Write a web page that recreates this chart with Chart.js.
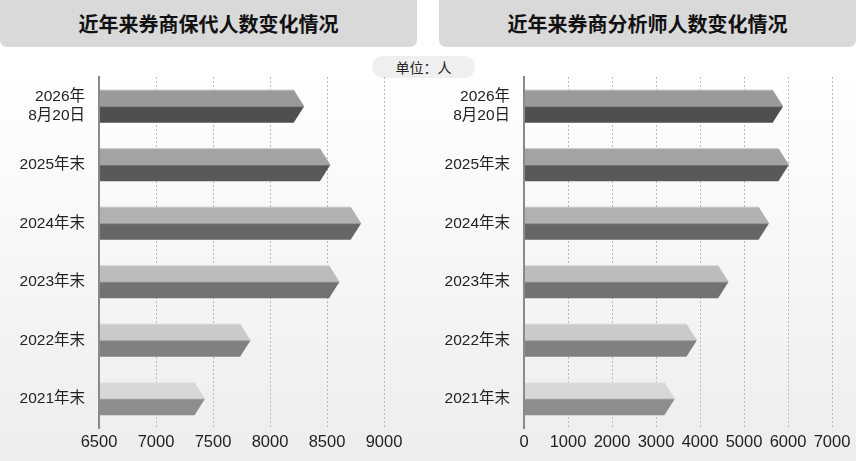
<!DOCTYPE html>
<html>
<head>
<meta charset="utf-8">
<script src="https://cdn.jsdelivr.net/npm/chart.js@4/dist/chart.umd.min.js"></script>
<style>
  html, body { margin:0; padding:0; }
  body { width:856px; height:461px; position:relative; overflow:hidden;
         background: linear-gradient(to bottom, #ffffff 0px, #ffffff 70px, #ededed 461px);
         font-family: "Liberation Sans", Arial, "Noto Sans CJK SC", sans-serif; }
  .title { position:absolute; top:0; height:47px; background:#d9d9d9; border-radius:0 0 7px 7px;
           display:flex; align-items:center; justify-content:center;
           font-size:20px; font-weight:bold; color:#111; font-family:"Noto Sans CJK SC", sans-serif; }
  .unit { position:absolute; left:372px; top:56px; width:103px; height:22px; border-radius:11px;
          background:#efefef; font-size:14px; color:#222; display:flex; align-items:center; justify-content:center;
          font-family:"Noto Sans CJK SC", sans-serif; }
  .box { position:absolute; top:0; height:461px; }
</style>
</head>
<body>
<div class="title" style="left:0;width:417px;">近年来券商保代人数变化情况</div>
<div class="title" style="left:439px;width:417px;">近年来券商分析师人数变化情况</div>
<div class="unit">单位：人</div>
<div class="box" style="left:0;width:428px;"><canvas id="c1"></canvas></div>
<div class="box" style="left:430px;width:426px;"><canvas id="c2"></canvas></div>
<script>
const categories = [['2026年','8月20日'], '2025年末', '2024年末', '2023年末', '2022年末', '2021年末'];
const sponsorValues = [8300, 8530, 8800, 8610, 7830, 7430];
const analystValues = [5890, 6020, 5570, 4650, 3930, 3430];
const sponsorAxis = { min: 6500, max: 9000, step: 500 };
const analystAxis = { min: 0, max: 7000, step: 1000 };

const topColors = ['#9a9a9a', '#a3a3a3', '#b1b1b1', '#bcbcbc', '#cacaca', '#d7d7d7'];
const bottomColors = ['#4f4f4f', '#595959', '#666666', '#727272', '#808080', '#8d8d8d'];

const arrowBars = {
  id: 'arrowBars',
  afterDatasetsDraw(chart) {
    const ctx = chart.ctx;
    const meta = chart.getDatasetMeta(0);
    const xs = chart.scales.x;
    const base = xs.getPixelForValue(xs.min);
    meta.data.forEach((el, i) => {
      const x0 = base + 1, x1 = el.x, y = el.y, h = el.height / 2, d = 10.5;
      ctx.save();
      ctx.fillStyle = topColors[i];
      ctx.beginPath();
      ctx.moveTo(x0, y - h); ctx.lineTo(x1 - d, y - h); ctx.lineTo(x1, y); ctx.lineTo(x0, y); ctx.closePath();
      ctx.fill();
      ctx.fillStyle = bottomColors[i];
      ctx.beginPath();
      ctx.moveTo(x0, y); ctx.lineTo(x1, y); ctx.lineTo(x1 - d, y + h); ctx.lineTo(x0, y + h); ctx.closePath();
      ctx.fill();
      ctx.strokeStyle = 'rgba(255,255,255,0.35)';
      ctx.lineWidth = 1;
      ctx.beginPath(); ctx.moveTo(x0, y - h + 0.5); ctx.lineTo(x1 - d, y - h + 0.5); ctx.stroke();
      ctx.strokeStyle = 'rgba(255,255,255,0.18)';
      ctx.beginPath(); ctx.moveTo(x0, y + 0.5); ctx.lineTo(x1, y + 0.5); ctx.stroke();
      ctx.restore();
    });
  }
};

function makeChart(id, values, axis, yWidth, padRight) {
  return new Chart(document.getElementById(id), {
    type: 'bar',
    data: { labels: categories, datasets: [{ data: values, base: axis.min, backgroundColor: 'rgba(0,0,0,0)', borderWidth: 0,
            barThickness: 33 }] },
    options: {
      indexAxis: 'y', responsive: true, maintainAspectRatio: false, animation: false,
      layout: { padding: { top: 77, right: padRight, left: 0, bottom: 0 } },
      plugins: { legend: { display: false }, tooltip: { enabled: false } },
      scales: {
        x: {
          min: axis.min, max: axis.max,
          ticks: { stepSize: axis.step, color: '#222', padding: 5, maxRotation: 0, minRotation: 0, autoSkip: false,
                   callback: (v) => String(v),
                   font: { family: '"Liberation Sans", Arial, sans-serif', size: 16.5 } },
          grid: { color: '#bbbbbb', borderDash: [2, 2], drawTicks: false, lineWidth: 1 },
          border: { display: false, dash: [2, 2] },
          afterFit(s) { s.height = 33; }
        },
        y: {
          ticks: { color: '#222', padding: 14,
                   font: { family: '"Liberation Sans", Arial, "Noto Sans CJK SC", sans-serif', size: 15.5, lineHeight: 1.17 } },
          grid: { display: false, drawTicks: false },
          border: { display: true, color: '#8a8a8a', width: 2 },
          afterFit(s) { s.width = yWidth; }
        }
      }
    },
    plugins: [arrowBars]
  });
}

makeChart('c1', sponsorValues, sponsorAxis, 99, 44);
makeChart('c2', analystValues, analystAxis, 94, 24);
</script>
</body>
</html>
